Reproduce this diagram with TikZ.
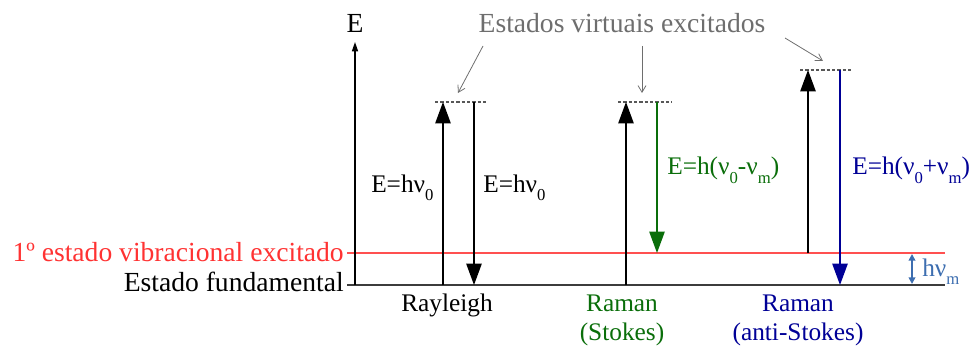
\documentclass[tikz,border=0pt]{standalone}
\usepackage{fontspec}
\setmainfont{Liberation Serif}
\newfontfamily\tnr{Liberation Serif}
\usetikzlibrary{arrows.meta}
\definecolor{redl}{RGB}{255,80,80}
\definecolor{redt}{RGB}{255,50,50}
\definecolor{greent}{RGB}{10,110,10}
\definecolor{bluet}{RGB}{0,0,150}
\definecolor{grayt}{RGB}{110,110,110}
\definecolor{hvblue}{RGB}{61,110,176}
\definecolor{groundc}{RGB}{60,60,60}
\newcommand\lowsub[1]{\raisebox{-6.5pt}{\fontsize{12.5}{12.5}\selectfont #1}}
\tikzset{
  big/.style={inner sep=0pt,font=\tnr\fontsize{20.7}{24}\selectfont},
  mid/.style={inner sep=0pt,font=\tnr\fontsize{19}{22}\selectfont},
  bigtip/.style={-{Triangle[length=16pt,width=11.5pt]},line width=1.1pt},
  vlevel/.style={grayt!80!black,line width=0.8pt,dash pattern=on 2.5pt off 1.5pt},
  note/.style={grayt,line width=0.6pt,-{Straight Barb[length=5pt,width=6pt]}},
}
\begin{document}
\begin{tikzpicture}[x=0.75pt,y=-0.75pt]
\useasboundingbox (0,0) rectangle (979,346);
% levels
\coordinate (g0) at (347,285); \coordinate (g1) at (945,285);
\coordinate (r0) at (347,253); \coordinate (r1) at (945,253);
\draw[groundc,line width=1.4pt] (g0) -- (g1);
\draw[redl,line width=1.2pt] (r0) -- (r1);
% axis
\coordinate (ax0) at (355,285); \coordinate (ax1) at (355,42);
\draw[line width=1.1pt,-{Triangle[length=7pt,width=4.5pt]}] (ax0) -- (ax1);
\node[big,anchor=base] (E) at (355,33) {E};
% level labels
\node[big,anchor=base east,text=redt] (lv1) at (344,261) {1º estado vibracional excitado};
\node[big,anchor=base east] (lv0) at (344,291) {Estado fundamental};
% virtual levels
\coordinate (v1a) at (435,102); \coordinate (v1b) at (488,102);
\coordinate (v2a) at (618,102); \coordinate (v2b) at (672,102);
\coordinate (v3a) at (800,70); \coordinate (v3b) at (853,70);
\draw[vlevel] (v1a) -- (v1b);
\draw[vlevel] (v2a) -- (v2b);
\draw[vlevel] (v3a) -- (v3b);
% Rayleigh
\coordinate (ra0) at (443,285); \coordinate (ra1) at (443,102);
\coordinate (rb0) at (474,102); \coordinate (rb1) at (474,285);
\draw[bigtip] (ra0) -- (ra1);
\draw[bigtip] (rb0) -- (rb1);
\node[mid,anchor=base west] (eh1) at (371,192) {E=hν\lowsub{0}};
\node[mid,anchor=base west] (eh2) at (483,192) {E=hν\lowsub{0}};
% Stokes
\coordinate (sa0) at (626,285); \coordinate (sa1) at (626,102);
\coordinate (sb0) at (657,102); \coordinate (sb1) at (657,253);
\draw[bigtip] (sa0) -- (sa1);
\draw[bigtip,greent] (sb0) -- (sb1);
\node[mid,anchor=base west,text=greent] (ehs) at (667,175) {E=h(ν\lowsub{0}-ν\lowsub{m})};
% anti-Stokes
\coordinate (aa0) at (808,253); \coordinate (aa1) at (808,70);
\coordinate (ab0) at (840,70); \coordinate (ab1) at (840,285);
\draw[bigtip] (aa0) -- (aa1);
\draw[bigtip,bluet] (ab0) -- (ab1);
\node[mid,anchor=base west,text=bluet] (eha) at (852,175) {E=h(ν\lowsub{0}+ν\lowsub{m})};
% h nu m
\coordinate (hm0) at (912,254); \coordinate (hm1) at (912,284);
\draw[hvblue,line width=1.6pt,{Triangle[length=5pt,width=5pt]}-{Triangle[length=5pt,width=5pt]}] (hm0) -- (hm1);
\node[mid,anchor=base west,text=hvblue] (hvm) at (922,276) {hν\lowsub{m}};
% bottom labels
\node[mid,anchor=base] (ray) at (447,311) {Rayleigh};
\node[mid,anchor=base,text=greent] (rs1) at (622,311) {Raman};
\node[mid,anchor=base,text=greent] (rs2) at (622,340) {(Stokes)};
\node[mid,anchor=base,text=bluet] (ras1) at (798,311) {Raman};
\node[mid,anchor=base,text=bluet] (ras2) at (798,340) {(anti-Stokes)};
% virtual states note
\node[big,anchor=base,text=grayt] (vs) at (622,33) {Estados virtuais excitados};
\coordinate (n1a) at (483,46); \coordinate (n1b) at (458,93);
\coordinate (n2a) at (642,46); \coordinate (n2b) at (642,93);
\coordinate (n3a) at (785,38); \coordinate (n3b) at (823,61);
\draw[note] (n1a) -- (n1b);
\draw[note] (n2a) -- (n2b);
\draw[note] (n3a) -- (n3b);
\end{tikzpicture}
\end{document}
